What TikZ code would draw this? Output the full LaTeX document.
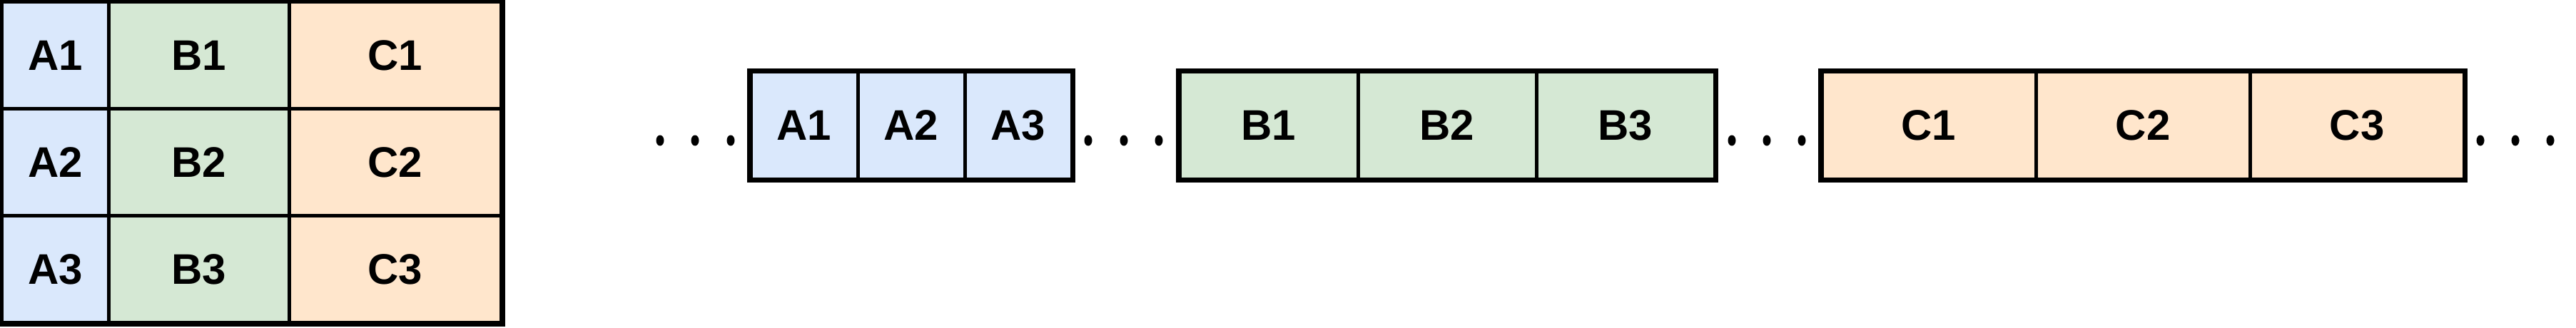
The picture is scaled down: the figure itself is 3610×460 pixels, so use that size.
\documentclass[tikz,border=0pt]{standalone}
\usepackage{fontspec}
\setmainfont{Liberation Sans}
\definecolor{cellA}{HTML}{DAE8FC}
\definecolor{cellB}{HTML}{D5E8D4}
\definecolor{cellC}{HTML}{FFE6CC}
\begin{document}
\begin{tikzpicture}[x=0.5pt,y=-0.5pt,
  cell/.style={draw,line width=2.5pt,inner sep=0pt,minimum height=75pt,
    font=\fontsize{30}{36}\selectfont\bfseries},
  frame/.style={draw,line width=2.75pt}]
\useasboundingbox (0,0) rectangle (3610,460);
% matrix as a table
\foreach \r/\y in {1/77.5,2/227.5,3/377.5}{
  \node[cell,fill=cellA,minimum width=75pt] (ta\r) at (77.5,\y) {A\r};
  \node[cell,fill=cellB,minimum width=126.5pt] (tb\r) at (279,\y) {B\r};
  \node[cell,fill=cellC,minimum width=148.5pt] (tc\r) at (554,\y) {C\r};
}
\draw[frame] (ta1.north west) rectangle (tc3.south east);
% the same cells laid out in memory
\foreach \i/\x in {1/1127,2/1277,3/1427}
  \node[cell,fill=cellA,minimum width=75pt] (a\i) at (\x,176) {A\i};
\foreach \i/\x in {1/1778,2/2028,3/2278}
  \node[cell,fill=cellB,minimum width=125pt] (b\i) at (\x,176) {B\i};
\foreach \i/\x in {1/2703,2/3003,3/3303}
  \node[cell,fill=cellC,minimum width=150pt] (c\i) at (\x,176) {C\i};
\draw[frame] (a1.north west) rectangle (a3.south east);
\draw[frame] (b1.north west) rectangle (b3.south east);
\draw[frame] (c1.north west) rectangle (c3.south east);
% dots
\foreach \x in {925,974,1024,1525,1575,1624,2427,2476,2525,3476,3525,3574}
  \fill (\x,197) ellipse (2.75pt and 3.75pt);
\end{tikzpicture}
\end{document}
